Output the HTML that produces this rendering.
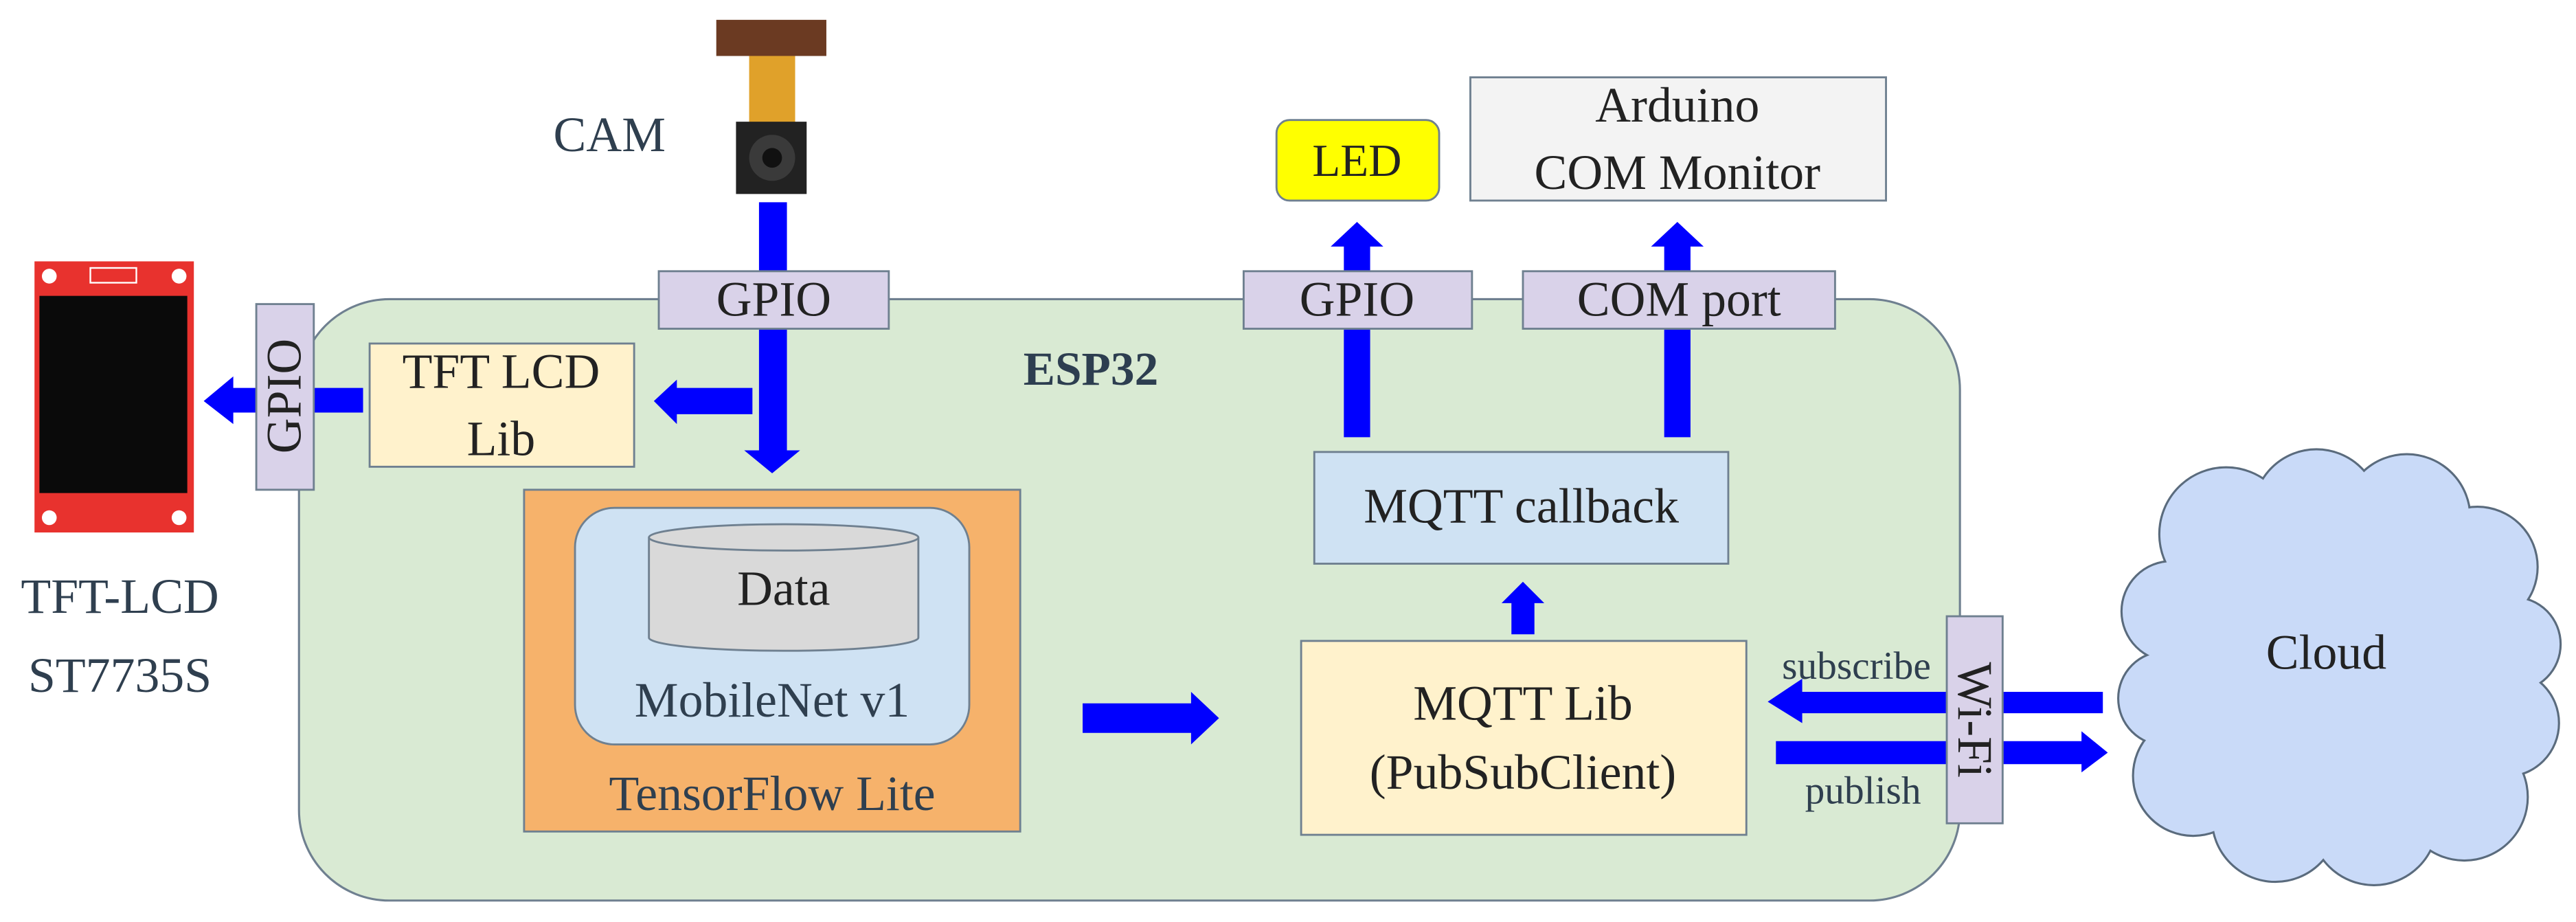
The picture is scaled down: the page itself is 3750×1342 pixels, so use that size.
<!DOCTYPE html>
<html><head><meta charset="utf-8"><style>
html,body{margin:0;padding:0;background:#fff;}
svg{display:block;}
text{font-family:"Liberation Serif",serif;}
</style></head><body>
<svg width="3750" height="1342" viewBox="0 0 1568 561" xmlns="http://www.w3.org/2000/svg">
<rect width="1568" height="561" fill="#fff"/>
<!-- ESP32 -->
<rect x="182" y="182" width="1011" height="366" rx="55" fill="#d9ead3" stroke="#6f8090" stroke-width="1.3"/>
<text x="664" y="234" font-size="29" font-weight="bold" fill="#2d3e50" text-anchor="middle">ESP32</text>

<!-- CAM -->
<text x="371" y="92" font-size="30" fill="#2f3f4f" text-anchor="middle">CAM</text>
<rect x="436" y="12" width="67" height="22" fill="#6b3a22"/>
<rect x="456" y="34" width="28" height="42" fill="#e0a12a"/>
<rect x="448" y="74" width="43" height="44" fill="#222"/>
<circle cx="470" cy="96" r="14" fill="#3a3a3a"/>
<circle cx="470" cy="96" r="6" fill="#111"/>

<!-- camera arrow down -->
<polygon points="462,123 479,123 479,274 487,274 470,288 453,274 462,274" fill="#0000ff"/>
<rect x="401" y="165" width="140" height="35" fill="#d9d2e9" stroke="#6f8090" stroke-width="1.2"/>
<text x="471" y="192" font-size="30" fill="#222" text-anchor="middle">GPIO</text>

<!-- TFT LCD Lib -->
<rect x="225" y="209" width="161" height="75" fill="#fff2cc" stroke="#6f8090" stroke-width="1.2"/>
<text x="305" y="236" font-size="30" fill="#222" text-anchor="middle">TFT LCD</text>
<text x="305" y="277" font-size="30" fill="#222" text-anchor="middle">Lib</text>
<polygon points="458,236 412,236 412,231 398,244 412,258 412,252 458,252" fill="#0000ff"/>
<polygon points="221,236 142,236 142,229 124,244 142,258 142,251 221,251" fill="#0000ff"/>
<rect x="156" y="185" width="35" height="113" fill="#d9d2e9" stroke="#6f8090" stroke-width="1.2"/>
<text transform="translate(183,241) rotate(-90)" font-size="30" fill="#222" text-anchor="middle">GPIO</text>

<!-- LCD module -->
<rect x="21" y="159" width="97" height="165" fill="#e8322e"/>
<rect x="24" y="180" width="90" height="120" fill="#0a0a0a"/>
<circle cx="30" cy="168" r="4.5" fill="#fff"/><circle cx="109" cy="168" r="4.5" fill="#fff"/>
<circle cx="30" cy="315" r="4.5" fill="#fff"/><circle cx="109" cy="315" r="4.5" fill="#fff"/>
<rect x="55" y="163" width="28" height="9" fill="none" stroke="#fff" stroke-width="1"/>
<text x="73" y="373" font-size="30" fill="#2f3f4f" text-anchor="middle">TFT-LCD</text>
<text x="73" y="421" font-size="30" fill="#2f3f4f" text-anchor="middle">ST7735S</text>

<!-- TensorFlow -->
<rect x="319" y="298" width="302" height="208" fill="#f6b26b" stroke="#6f8090" stroke-width="1.2"/>
<rect x="350" y="309" width="240" height="144" rx="24" fill="#cfe2f3" stroke="#6f8090" stroke-width="1.2"/>
<path d="M395,327 L395,388 A82,8 0 0 0 559,388 L559,327" fill="#d9d9d9" stroke="#6f8090" stroke-width="1.2"/>
<ellipse cx="477" cy="327" rx="82" ry="8" fill="#d9d9d9" stroke="#6f8090" stroke-width="1.2"/>
<text x="477" y="368" font-size="30" fill="#222" text-anchor="middle">Data</text>
<text x="470" y="436" font-size="30" fill="#2f3f4f" text-anchor="middle">MobileNet v1</text>
<text x="470" y="493" font-size="30" fill="#2f3f4f" text-anchor="middle">TensorFlow Lite</text>
<polygon points="659,428 725,428 725,421 742,437 725,453 725,446 659,446" fill="#0000ff"/>

<!-- LED / Arduino -->
<rect x="777" y="73" width="99" height="49" rx="8" fill="#ffff00" stroke="#6f8090" stroke-width="1.2"/>
<text x="826" y="107" font-size="28" fill="#222" text-anchor="middle">LED</text>
<rect x="895" y="47" width="253" height="75" fill="#f3f3f3" stroke="#6f8090" stroke-width="1.2"/>
<text x="1021" y="74" font-size="30" fill="#222" text-anchor="middle">Arduino</text>
<text x="1021" y="115" font-size="30" fill="#222" text-anchor="middle">COM Monitor</text>

<polygon points="818,266 818,150 810,150 826,135 842,150 834,150 834,266" fill="#0000ff"/>
<polygon points="1013,266 1013,150 1005,150 1021,135 1037,150 1029,150 1029,266" fill="#0000ff"/>
<rect x="757" y="165" width="139" height="35" fill="#d9d2e9" stroke="#6f8090" stroke-width="1.2"/>
<text x="826" y="192" font-size="30" fill="#222" text-anchor="middle">GPIO</text>
<rect x="927" y="165" width="190" height="35" fill="#d9d2e9" stroke="#6f8090" stroke-width="1.2"/>
<text x="1022" y="192" font-size="30" fill="#222" text-anchor="middle">COM port</text>

<!-- MQTT -->
<rect x="800" y="275" width="252" height="68" fill="#cfe2f3" stroke="#6f8090" stroke-width="1.2"/>
<text x="926" y="318" font-size="30" fill="#222" text-anchor="middle">MQTT callback</text>
<polygon points="920,386 920,367 914,367 927,354 940,367 934,367 934,386" fill="#0000ff"/>
<rect x="792" y="390" width="271" height="118" fill="#fff2cc" stroke="#6f8090" stroke-width="1.2"/>
<text x="927" y="438" font-size="30" fill="#222" text-anchor="middle">MQTT Lib</text>
<text x="927" y="480" font-size="30" fill="#222" text-anchor="middle">(PubSubClient)</text>

<polygon points="1280,421 1097,421 1097,413 1076,427 1097,440 1097,434 1280,434" fill="#0000ff"/>
<polygon points="1081,451 1267,451 1267,445 1283,458 1267,470 1267,465 1081,465" fill="#0000ff"/>
<text x="1130" y="413" font-size="24" fill="#2f3f4f" text-anchor="middle">subscribe</text>
<text x="1134" y="489" font-size="24" fill="#2f3f4f" text-anchor="middle">publish</text>
<rect x="1185" y="375" width="34" height="126" fill="#d9d2e9" stroke="#6f8090" stroke-width="1.2"/>
<text transform="translate(1192,438) rotate(90)" font-size="30" fill="#222" text-anchor="middle">Wi-Fi</text>

<!-- Cloud -->
<g stroke="#5a6b7d" stroke-width="2.6" fill="#c9daf8">
<circle cx="1355" cy="325" r="40"/><circle cx="1410" cy="312" r="38"/><circle cx="1465" cy="315" r="38"/>
<circle cx="1508" cy="345" r="36"/><circle cx="1530" cy="392" r="28"/><circle cx="1525" cy="440" r="32"/>
<circle cx="1500" cy="485" r="38"/><circle cx="1445" cy="500" r="38"/><circle cx="1385" cy="498" r="38"/>
<circle cx="1335" cy="472" r="36"/><circle cx="1318" cy="425" r="28"/><circle cx="1322" cy="372" r="30"/>
</g>
<g fill="#c9daf8">
<circle cx="1355" cy="325" r="40"/><circle cx="1410" cy="312" r="38"/><circle cx="1465" cy="315" r="38"/>
<circle cx="1508" cy="345" r="36"/><circle cx="1530" cy="392" r="28"/><circle cx="1525" cy="440" r="32"/>
<circle cx="1500" cy="485" r="38"/><circle cx="1445" cy="500" r="38"/><circle cx="1385" cy="498" r="38"/>
<circle cx="1335" cy="472" r="36"/><circle cx="1318" cy="425" r="28"/><circle cx="1322" cy="372" r="30"/>
<ellipse cx="1424" cy="408" rx="110" ry="100"/>
</g>
<text x="1416" y="407" font-size="30" fill="#222" text-anchor="middle">Cloud</text>
</svg>
</body></html>
